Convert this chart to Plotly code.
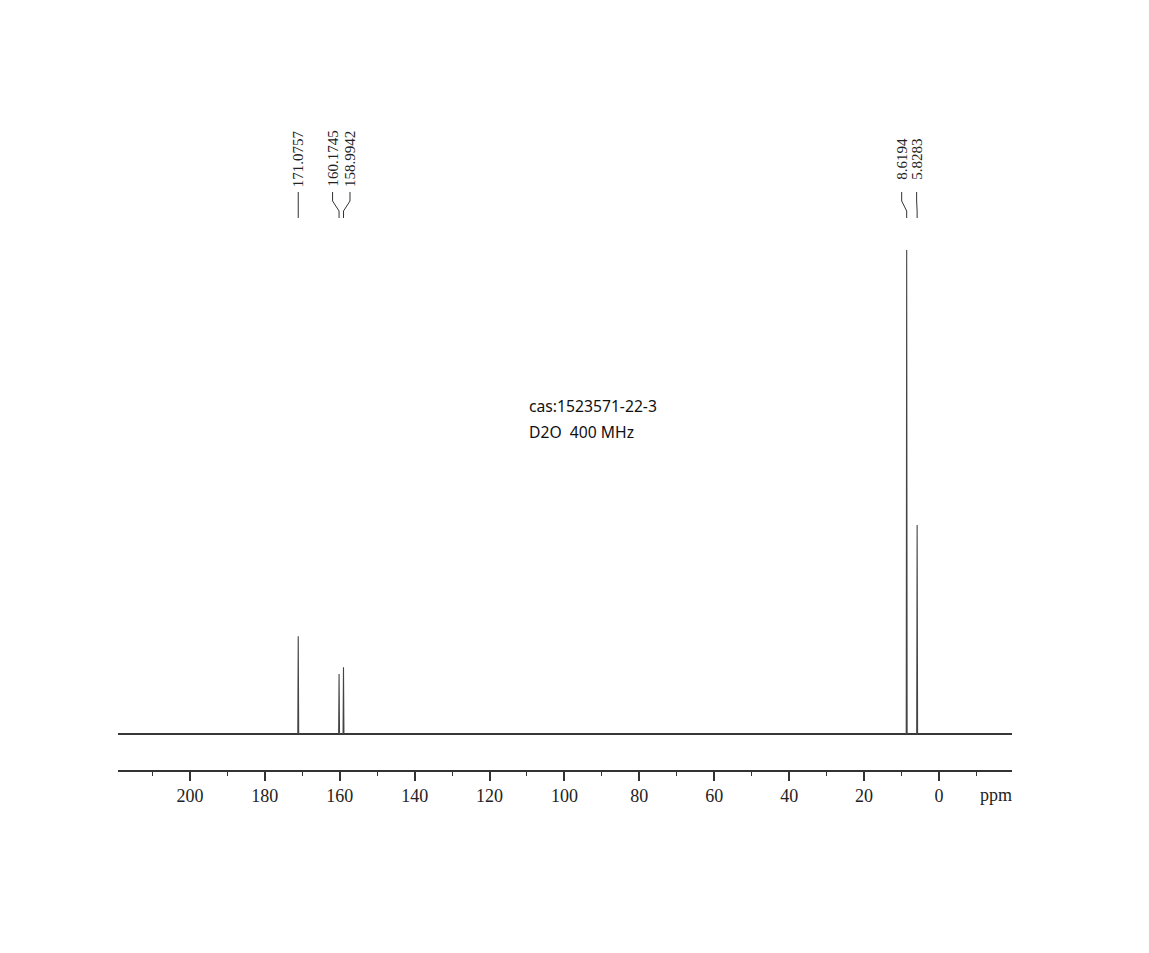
import plotly.graph_objects as go

# ---- data ----
peak_ppm = [171.0757, 160.1745, 158.9942, 8.6194, 5.8283]
peak_height = [20.2, 12.4, 13.8, 100.0, 43.2]          # relative intensity
peak_labels = ["171.0757", "160.1745", "158.9942", "8.6194", "5.8283"]
label_offset_px = [0, -6.5, 6.5, -5, -0.5]             # label spread (layout)
major_ticks = [200, 180, 160, 140, 120, 100, 80, 60, 40, 20, 0]
tick_text = [str(t) for t in major_ticks]
x_range = [219.2, -19.5]
info_lines = ["cas:1523571-22-3", "D2O&nbsp;&nbsp;400 MHz"]

# ---- layout geometry (page has an 8px body margin) ----
W, H = 1149, 953
OFF = 8
PL, PR, PT, PB = 118, 1012, 90, 770     # target plot box on the page
L, T = PL - OFF, PT - OFF
R = W - (PR - OFF)
B = H - (PB - OFF)
plot_w = PR - PL
plot_h = PB - PT
ppm_per_px = (x_range[0] - x_range[1]) / plot_w
px_per_unit = 484 / 100.0
y_range = [-36 / px_per_unit, (plot_h - 36) / px_per_unit]


def py(pix):
    return (PB - pix) / plot_h


# spectrum trace (baseline + narrow peaks)
w = 0.12
xs = [x_range[0]]
ys = [0]
for p, h in sorted(zip(peak_ppm, peak_height), key=lambda t: -t[0]):
    xs += [p + w, p, p - w]
    ys += [0, h, 0]
xs.append(x_range[1])
ys.append(0)

fig = go.Figure()
fig.add_trace(go.Scatter(x=[x_range[0], x_range[1]], y=[0, 0], mode="lines",
                         line=dict(color="#2a2a2a", width=1.8), hoverinfo="skip"))
fig.add_trace(go.Scatter(x=xs, y=ys, mode="lines",
                         line=dict(color="#444444", width=1.1), hoverinfo="skip"))

annotations = []
shapes = []
for p, lab, off in zip(peak_ppm, peak_labels, label_offset_px):
    lx = p - off * ppm_per_px
    annotations.append(dict(x=lx, xref="x", y=py(159), yref="paper", text=lab,
                            textangle=-90, showarrow=False, xanchor="center",
                            yanchor="middle",
                            font=dict(family="Liberation Serif", size=15, color="#222")))
    path = (f"M {lx},{py(192)} L {lx},{py(201)} L {p},{py(211)} L {p},{py(218)}")
    shapes.append(dict(type="path", xref="x", yref="paper", path=path,
                       line=dict(color="#333", width=1)))

annotations.append(dict(x=-15.2, xref="x", y=py(795), yref="paper", text="ppm",
                        showarrow=False, xanchor="center", yanchor="middle",
                        font=dict(family="Liberation Serif", size=18, color="#222")))
for i, t in enumerate(info_lines):
    annotations.append(dict(x=(527 - PL) / plot_w, xref="paper", y=py(406 + 26 * i),
                            yref="paper", text=t, showarrow=False, xanchor="left",
                            yanchor="middle",
                            font=dict(family="Noto Sans", size=15.7, color="#111")))

fig.update_layout(
    width=W, height=H,
    margin=dict(l=L, r=R, t=T, b=B),
    paper_bgcolor="white", plot_bgcolor="white",
    showlegend=False,
    xaxis=dict(range=x_range, showgrid=False, zeroline=False,
               showline=True, linecolor="#333", linewidth=1.5,
               ticks="outside", ticklen=9, tickwidth=1.5, tickcolor="#333",
               tickvals=major_ticks, ticktext=tick_text,
               tickfont=dict(family="Liberation Serif", size=18, color="#222"),
               minor=dict(dtick=10, tick0=0, ticks="outside", ticklen=4,
                          tickwidth=1.2, tickcolor="#333")),
    yaxis=dict(range=y_range, visible=False, showgrid=False, zeroline=False),
    annotations=annotations,
    shapes=shapes,
)

fig.write_html("out.html")
